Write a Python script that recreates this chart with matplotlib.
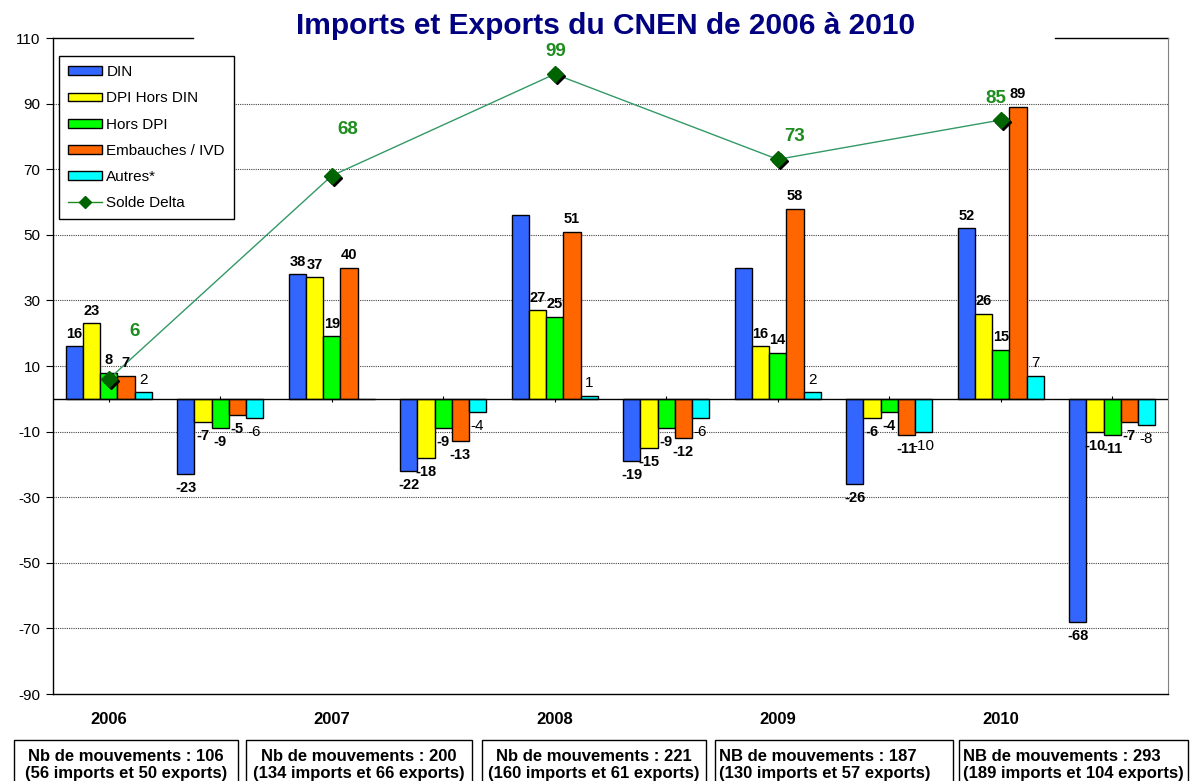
import numpy as np
import matplotlib
matplotlib.use("Agg")
import matplotlib.pyplot as plt
from matplotlib.patches import Rectangle
from matplotlib import transforms

plt.rcParams['font.family'] = ['Liberation Sans', 'DejaVu Sans']
plt.rcParams['axes.unicode_minus'] = False

# ---------------- data ----------------
groups = ['2006 imp', '2006 exp', '2007 imp', '2007 exp', '2008 imp',
          '2008 exp', '2009 imp', '2009 exp', '2010 imp', '2010 exp']
years = ['2006', '2007', '2008', '2009', '2010']
series_names = ['DIN', 'DPI Hors DIN', 'Hors DPI', 'Embauches / IVD', 'Autres*']
din = [16, -23, 38, -22, 56, -19, 40, -26, 52, -68]
dpi_hors_din = [23, -7, 37, -18, 27, -15, 16, -6, 26, -10]
hors_dpi = [8, -9, 19, -9, 25, -9, 14, -4, 15, -11]
embauches = [7, -5, 40, -13, 51, -12, 58, -11, 89, -7]
autres = [2, -6, 0, -4, 1, -6, 2, -10, 7, -8]
# (series index, group index) whose value label is not shown in the original
hidden_labels = [(0, 4), (0, 6), (4, 2)]
solde_delta = [6, 68, 99, 73, 85]
box_line1 = ['Nb de mouvements : 106', 'Nb de mouvements : 200', 'Nb de mouvements : 221',
             'NB de mouvements : 187', 'NB de mouvements : 293']
box_line2 = ['(56 imports et 50 exports)', '(134 imports et 66 exports)',
             '(160 imports et 61 exports)', '(130 imports et 57 exports)',
             '(189 imports et 104 exports)']
title = 'Imports et Exports du CNEN de 2006 à 2010'

# ---------------- style ----------------
colors = ['#3366FF', '#FFFF00', '#00FF00', '#FF6600', '#00FFFF']
label_weights = ['bold', 'bold', 'bold', 'bold', 'normal']
label_sizes = [10.5, 10.5, 10.5, 10.5, 11]
solde_offsets = [(18.5, 34.5), (11.5, 33), (0.7, 16.5), (12.2, 16.5), (-3.6, 15.8)]
green_txt = '#1E8C1E'
W, H = 1190, 781

fig = plt.figure(figsize=(W / 100, H / 100), dpi=100)
ax = fig.add_axes([53 / W, (H - 694) / H, 1115 / W, 656 / H])

x = np.arange(len(groups))
bw = 0.154
all_series = [din, dpi_hors_din, hors_dpi, embauches, autres]
bar_handles = []
for j, (vals, name) in enumerate(zip(all_series, series_names)):
    xs = x + (j - 2) * bw
    bars = ax.bar(xs, vals, width=bw, color=colors[j], edgecolor='black',
                  linewidth=1.0, label=name, zorder=3)
    bar_handles.append(bars)
    for i, (xi, v) in enumerate(zip(xs, vals)):
        if (j, i) in hidden_labels:
            continue
        if v >= 0:
            ax.annotate(str(v), (xi, v), xytext=(0, 4), textcoords='offset points',
                        ha='center', va='bottom', fontsize=label_sizes[j],
                        fontweight=label_weights[j], zorder=6)
        else:
            ax.annotate(str(v), (xi, v), xytext=(0, -5), textcoords='offset points',
                        ha='center', va='top', fontsize=label_sizes[j],
                        fontweight=label_weights[j], zorder=6)

# Solde Delta line at import groups
xs_line = x[0::2]
ax.plot(xs_line, solde_delta, color='#339966', lw=1.0, zorder=4)
shadow = transforms.offset_copy(ax.transData, fig=fig, x=2, y=-2, units='dots')
ax.plot(xs_line, solde_delta, ls='none', marker='D', markersize=8,
        color='black', transform=shadow, zorder=4)
ax.plot(xs_line, solde_delta, ls='none', marker='D', markersize=8,
        color='#006400', zorder=5)
for xi, v, off in zip(xs_line, solde_delta, solde_offsets):
    ax.annotate(str(v), (xi, v), xytext=off, textcoords='offset points',
                ha='center', va='center', fontsize=13.5, fontweight='bold',
                color=green_txt, zorder=6)
# legend proxy for line
line_handle, = ax.plot([], [], color='#1E8C1E', lw=1.0, marker='D', markersize=6,
                       markerfacecolor='#006400', markeredgecolor='#006400',
                       label='Solde Delta')

# axes
ax.set_xlim(-0.5, len(groups) - 0.5)
ax.set_ylim(-90, 110)
ax.set_yticks(np.arange(-90, 111, 20))
ax.tick_params(axis='y', direction='out', length=5, labelsize=11, pad=4)
ax.set_xticks(xs_line)
ax.set_xticklabels(years, fontsize=12, fontweight='bold')
ax.tick_params(axis='x', length=0, pad=13)

ax.yaxis.grid(True, linestyle=(0, (1, 1)), color='#444444', lw=0.8, zorder=0)
gl = ax.yaxis.get_gridlines()
gl[0].set_visible(False)
gl[-1].set_visible(False)
ax.set_axisbelow(True)

ax.spines['top'].set_visible(False)
ax.spines['right'].set_color('#808080')
for s in ['left', 'bottom']:
    ax.spines[s].set_color('black')
    ax.spines[s].set_linewidth(1.0)
ax.plot([0, (193 - 53) / 1115], [1, 1], transform=ax.transAxes, color='black',
        lw=1.0, clip_on=False)
ax.plot([(1055 - 53) / 1115, 1], [1, 1], transform=ax.transAxes, color='black',
        lw=1.0, clip_on=False)

# zero axis with category ticks
ax.axhline(0, color='black', lw=1.0, zorder=4)
sec = ax.secondary_xaxis(90 / 200)
sec.set_xticks(x)
sec.set_xticklabels([''] * len(x))
sec.tick_params(direction='inout', length=5, width=0.8, color='black')
sec.spines['bottom'].set_visible(False)
sec.spines['top'].set_visible(False)

# legend
leg = ax.legend(handles=bar_handles + [line_handle],
                labels=series_names + ['Solde Delta'],
                loc='upper left', bbox_to_anchor=(59 / W, 1 - 56 / H),
                bbox_transform=fig.transFigure, borderaxespad=0, fontsize=11,
                frameon=True, fancybox=False, framealpha=1, edgecolor='black',
                handlelength=2.2, handleheight=0.5, labelspacing=0.8,
                handletextpad=0.3, borderpad=0.6)
leg.get_frame().set_linewidth(1.0)

# title
fig.text(606 / W, 1 - 26 / H, title, ha='center', va='center', fontsize=21.5,
         fontweight='bold', color='#000080')

# bottom boxes
box_x = [(14, 238), (246, 472), (482, 706), (715, 953), (959, 1188)]
box_align = ['center', 'center', 'center', 'left', 'left']
for (x0, x1), l1, l2, al in zip(box_x, box_line1, box_line2, box_align):
    fig.add_artist(Rectangle((x0 / W, -0.02), (x1 - x0) / W, (H - 740) / H + 0.02,
                             transform=fig.transFigure, fill=False,
                             edgecolor='black', lw=1.0))
    tx = (x0 + x1) / 2 if al == 'center' else x0 + 4
    fig.text(tx / W, 1 - 765 / H, l1 + '\n' + l2, ha=al, va='center',
             fontsize=12, fontweight='bold', linespacing=1.15,
             multialignment=al)

fig.savefig('out.png', dpi=100)
